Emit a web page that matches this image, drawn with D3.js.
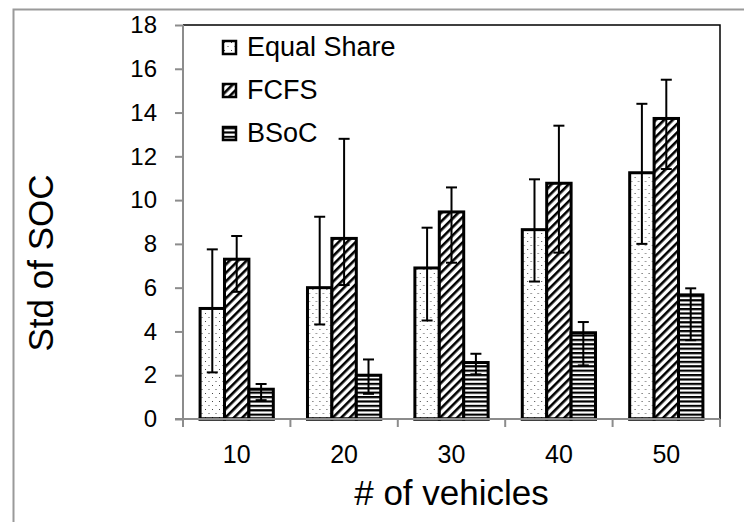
<!DOCTYPE html>
<html>
<head>
<meta charset="utf-8">
<script src="https://cdn.jsdelivr.net/npm/d3@7"></script>
<style>
  html, body { margin: 0; padding: 0; background: #fff; }
  svg { display: block; font-family: "Liberation Sans", Arial, sans-serif; }
</style>
</head>
<body>
<svg id="chart" width="744" height="522"></svg>
<script>
"use strict";

// ─── Data ────────────────────────────────────────────────────────────────────
const categories = ["10", "20", "30", "40", "50"];
const seriesNames = ["Equal Share", "FCFS", "BSoC"];

const equalShare     = [5.05, 6.0, 6.9, 8.65, 11.25];
const equalShareLow  = [2.13, 4.32, 4.5, 6.28, 8.0];
const equalShareHigh = [7.75, 9.24, 8.74, 10.95, 14.4];

const fcfs     = [7.3, 8.25, 9.46, 10.77, 13.73];
const fcfsLow  = [5.81, 6.12, 7.14, 7.6, 11.42];
const fcfsHigh = [8.36, 12.8, 10.58, 13.4, 15.5];

const bsoc     = [1.36, 2.0, 2.58, 3.94, 5.67];
const bsocLow  = [0.86, 1.15, 2.04, 2.45, 3.6];
const bsocHigh = [1.6, 2.72, 2.98, 4.43, 5.97];

const yTicks = [0, 2, 4, 6, 8, 10, 12, 14, 16, 18];

const series = [
  { name: seriesNames[0], values: equalShare, low: equalShareLow, high: equalShareHigh, fill: "url(#pat-dots)" },
  { name: seriesNames[1], values: fcfs, low: fcfsLow, high: fcfsHigh, fill: "url(#pat-diag)" },
  { name: seriesNames[2], values: bsoc, low: bsocLow, high: bsocHigh, fill: "url(#pat-horiz)" },
];

// ─── Layout ──────────────────────────────────────────────────────────────────
const svg = d3.select("#chart");
const plot = { left: 183, right: 720, top: 25, bottom: 419 };
const AXIS_GRAY = "#8c8c8c";

const x0 = d3.scaleBand().domain(categories).range([plot.left, plot.right]).padding(0);
const x1 = d3.scaleBand().domain(seriesNames).range([0, x0.bandwidth()])
  .paddingInner(0).paddingOuter(0.7);
const y = d3.scaleLinear().domain([0, 18]).range([plot.bottom, plot.top]);

// ─── Patterns ────────────────────────────────────────────────────────────────
const defs = svg.append("defs");

const dots = defs.append("pattern").attr("id", "pat-dots")
  .attr("patternUnits", "userSpaceOnUse").attr("width", 7).attr("height", 8);
dots.append("rect").attr("width", 7).attr("height", 8).attr("fill", "#fff");
dots.append("rect").attr("x", 1).attr("y", 1).attr("width", 1).attr("height", 1).attr("fill", "#444");
dots.append("rect").attr("x", 4.5).attr("y", 5).attr("width", 1).attr("height", 1).attr("fill", "#444");

const diag = defs.append("pattern").attr("id", "pat-diag")
  .attr("patternUnits", "userSpaceOnUse").attr("width", 6).attr("height", 6)
  .attr("patternTransform", "rotate(45)");
diag.append("rect").attr("width", 6).attr("height", 6).attr("fill", "#fff");
diag.append("rect").attr("x", 0).attr("y", 0).attr("width", 2.6).attr("height", 6).attr("fill", "#000");

const horiz = defs.append("pattern").attr("id", "pat-horiz")
  .attr("patternUnits", "userSpaceOnUse").attr("width", 8).attr("height", 4.4);
horiz.append("rect").attr("width", 8).attr("height", 4.4).attr("fill", "#fff");
horiz.append("rect").attr("y", 0).attr("width", 8).attr("height", 2.2).attr("fill", "#000");

// ─── Outer frame (gray, top + left only) ─────────────────────────────────────
svg.append("path")
  .attr("d", "M13.5,522 V9.5 H744")
  .attr("fill", "none").attr("stroke", "#9a9a9a").attr("stroke-width", 2);

// plot frame top + right in black
svg.append("path")
  .attr("d", `M${plot.left},${plot.top} H${plot.right} V${plot.bottom}`)
  .attr("fill", "none").attr("stroke", "#000").attr("stroke-width", 1.5);

// ─── Bars ────────────────────────────────────────────────────────────────────
const groups = svg.append("g").selectAll("g")
  .data(categories)
  .join("g")
  .attr("transform", d => `translate(${x0(d)},0)`);

groups.selectAll("rect")
  .data((c, i) => series.map(s => ({ s, v: s.values[i] })))
  .join("rect")
  .attr("x", d => x1(d.s.name))
  .attr("y", d => y(d.v))
  .attr("width", x1.bandwidth())
  .attr("height", d => y(0) - y(d.v))
  .attr("fill", d => d.s.fill)
  .attr("stroke", "#000")
  .attr("stroke-width", 3);

// ─── Error bars ──────────────────────────────────────────────────────────────
const err = groups.selectAll("g.err")
  .data((c, i) => series.map(s => ({ s, lo: s.low[i], hi: s.high[i] })))
  .join("g").attr("class", "err")
  .attr("transform", d => `translate(${x1(d.s.name) + x1.bandwidth() / 2},0)`)
  .attr("stroke", "#000").attr("stroke-width", 2);
err.append("line").attr("y1", d => y(d.lo)).attr("y2", d => y(d.hi));
err.append("line").attr("x1", -5.5).attr("x2", 5.5).attr("y1", d => y(d.hi)).attr("y2", d => y(d.hi));
err.append("line").attr("x1", -5.5).attr("x2", 5.5).attr("y1", d => y(d.lo)).attr("y2", d => y(d.lo));

// ─── Axes ────────────────────────────────────────────────────────────────────
const yAxis = svg.append("g")
  .attr("transform", `translate(${plot.left},0)`)
  .call(d3.axisLeft(y).tickValues(yTicks).tickSize(8).tickPadding(18));
yAxis.select(".domain").remove();
yAxis.append("line").attr("x1", 0).attr("x2", 0)
  .attr("y1", plot.top).attr("y2", plot.bottom + 8)
  .attr("stroke", AXIS_GRAY).attr("stroke-width", 2);
yAxis.selectAll(".tick line").attr("stroke", AXIS_GRAY).attr("stroke-width", 2);
yAxis.selectAll(".tick text")
  .attr("fill", "#000").attr("font-size", 24)
  .attr("font-family", "Liberation Sans, Arial, sans-serif");

const xBounds = categories.map(c => x0(c)).concat([plot.right]);
const xAxis = svg.append("g");
xAxis.append("line")
  .attr("x1", plot.left - 8).attr("x2", plot.right)
  .attr("y1", plot.bottom).attr("y2", plot.bottom)
  .attr("stroke", AXIS_GRAY).attr("stroke-width", 2);
xAxis.selectAll("line.tk").data(xBounds).join("line").attr("class", "tk")
  .attr("x1", d => d).attr("x2", d => d)
  .attr("y1", plot.bottom).attr("y2", plot.bottom + 8)
  .attr("stroke", AXIS_GRAY).attr("stroke-width", 2);
xAxis.selectAll("text").data(categories).join("text")
  .attr("x", d => x0(d) + x0.bandwidth() / 2)
  .attr("y", 463)
  .attr("text-anchor", "middle")
  .attr("font-size", 25)
  .text(d => d);

// re-draw bar bottoms over the axis so they read as black
groups.selectAll("line.base")
  .data((c, i) => [0])
  .join("line").attr("class", "base")
  .attr("x1", x1(seriesNames[0]) - 1.5)
  .attr("x2", x1(seriesNames[2]) + x1.bandwidth() + 1.5)
  .attr("y1", plot.bottom).attr("y2", plot.bottom)
  .attr("stroke", "#000").attr("stroke-width", 3);

// ─── Titles ──────────────────────────────────────────────────────────────────
svg.append("text")
  .attr("x", (plot.left + plot.right) / 2)
  .attr("y", 505)
  .attr("text-anchor", "middle")
  .attr("font-size", 35)
  .text("# of vehicles");

svg.append("text")
  .attr("transform", "translate(53,263) rotate(-90)")
  .attr("text-anchor", "middle")
  .attr("font-size", 35)
  .text("Std of SOC");

// ─── Legend ──────────────────────────────────────────────────────────────────
const legend = svg.append("g").selectAll("g")
  .data(series)
  .join("g")
  .attr("transform", (d, i) => `translate(223,${41 + i * 43})`);
legend.append("rect")
  .attr("width", 13).attr("height", 13)
  .attr("fill", d => d.fill)
  .attr("stroke", "#000").attr("stroke-width", 2.5);
legend.append("text")
  .attr("x", 24).attr("y", 15)
  .attr("font-size", 27)
  .text(d => d.name);
</script>
</body>
</html>
